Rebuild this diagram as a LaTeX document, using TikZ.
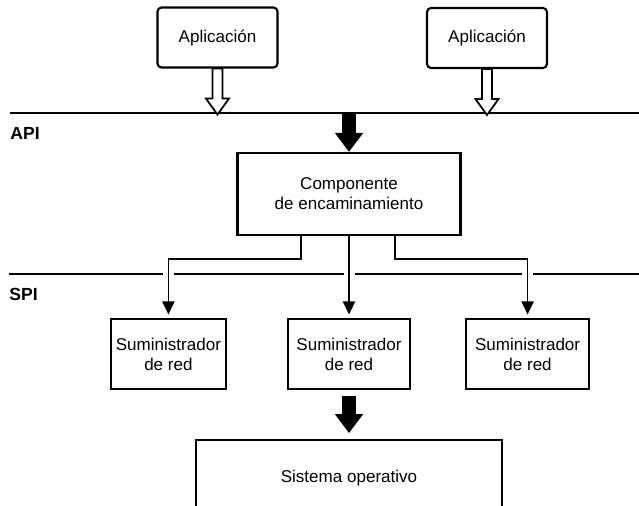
\documentclass[tikz,border=0pt]{standalone}
\usepackage{fontspec}
\setmainfont{Liberation Sans}
\usepackage{tikz}
\usetikzlibrary{positioning, arrows.meta, calc}
\tikzstyle{ap}=[%
      rectangle, draw=black, line width=1.2pt, fill=white, rounded corners=0.08cm,
      minimum height=1.2cm, minimum width=2.4cm, inner sep=0pt, align=center
]
\tikzstyle{bb}=[%
      rectangle, draw=black, line width=1.2pt, fill=white, align=center,
      minimum height=1.4cm, inner sep=0pt
]
\tikzstyle{lay}=[%
      line width=1.1pt
]
\tikzstyle{lbl}=[%
      font=\bfseries\fontsize{10}{12}\selectfont, inner sep=0pt
]
\tikzstyle{fat}=[%
      line width=0.28cm, -{Triangle[width=0.54cm,length=0.38cm]}
]
\tikzstyle{hollow}=[%
      draw=black, line width=1pt, fill=white, line join=miter
]
\tikzstyle{gap}=[%
      draw=white, line width=0.22cm
]

\begin{document}
\begin{tikzpicture}[x=0.02cm, y=-0.02cm,
    font=\fontsize{9.7}{11.4}\selectfont,
    >={Triangle[width=7pt,length=7.5pt]},
    conn/.style={->, line width=0.9pt, shorten >=2pt},
]
    \useasboundingbox (0,0) rectangle (639,506);
    \clip (0,0) rectangle (639,506);
    % interfaces
    \coordinate (apiL) at (10,113);
    \coordinate (apiR) at (639,113);
    \coordinate (spiL) at (9,274);
    \coordinate (spiR) at (639,274);
    \draw[lay] (apiL) -- (apiR);
    \draw[lay] (spiL) -- (spiR);
    \node[lbl] (api) [below right = 0.28cm and 0cm of apiL] {API};
    \node[lbl] (spi) [below right = 0.28cm and 0cm of spiL] {SPI};

    \node[ap]  (a1) at (217.5,37.5) {Aplicación};
    \node[ap]  (a2) at (487,38)     {Aplicación};
    \node[bb, minimum width=4.46cm, minimum height=1.64cm] (rc) at (349,194) {Componente\\de encaminamiento};
    \node[bb, minimum width=2.44cm] (s2) [below = 1.64cm of rc] {Suministrador\\de red};
    \node[bb, minimum width=2.3cm]  (s1) [left = 1.2cm of s2]   {Suministrador\\de red};
    \node[bb, minimum width=2.46cm] (s3) [right = 1.08cm of s2] {Suministrador\\de red};
    \node[bb, minimum width=6.12cm, minimum height=1.52cm] (so) [below = 0.98cm of s2] {Sistema operativo};

    % hollow arrows into the API
    \foreach \a in {a1,a2}
      \draw[hollow] (\a.south) ++(-5,0) -- ++(0,30) -- ++(-6.5,0) -- ++(11.5,16)
                    -- ++(11.5,-16) -- ++(-6.5,0) -- ++(0,-30) -- cycle;

    \draw[fat] (rc.north |- apiL) -- (rc.north);
    \draw[fat] ($(s2.south)+(0,6)$) -- ($(so.north)+(0,-6)$);

    % routing to the providers, through the SPI
    \foreach \s in {s1,s2,s3}
      \draw[gap] (\s |- spiL) ++(0,-5) -- ++(0,10);
    \draw[conn] ($(rc.south)+(-48,0)$) -- ++(0,23) -| (s1);
    \draw[conn] (rc.south) -- (s2);
    \draw[conn] ($(rc.south)+(46,0)$) -- ++(0,23) -| (s3);
\end{tikzpicture}
\end{document}
